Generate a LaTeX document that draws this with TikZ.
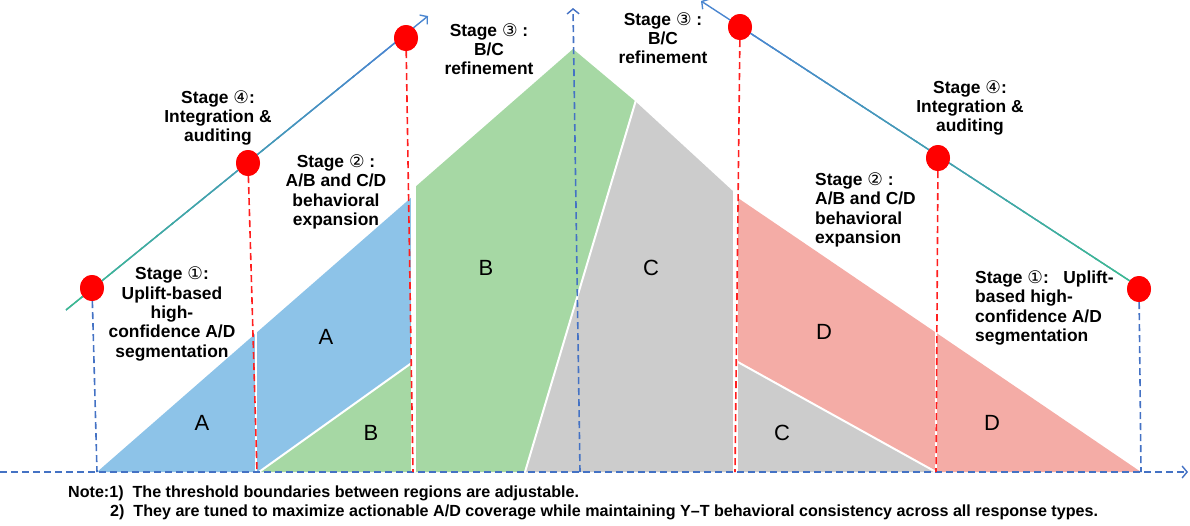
\documentclass[tikz,border=0pt]{standalone}
\usepackage{fontspec}
\setmainfont{Liberation Sans}
\newfontfamily\dvsans{DejaVu Sans}
\usetikzlibrary{arrows.meta,calc,shapes.geometric}

\definecolor{regA}{RGB}{141,195,232}
\definecolor{regB}{RGB}{166,216,164}
\definecolor{regC}{RGB}{204,204,204}
\definecolor{regD}{RGB}{244,172,166}
\definecolor{axisblue}{RGB}{68,114,196}
\definecolor{cutred}{RGB}{255,30,30}
\definecolor{lineblue}{RGB}{74,134,208}
\definecolor{linegreen}{RGB}{60,190,140}

% circled stage numbers come from DejaVu Sans
\newcommand{\stg}[1]{{\dvsans\mdseries #1}}

\tikzset{
  bdash/.style={draw=axisblue, line width=1.6pt, dash pattern=on 7pt off 4pt},
  rdash/.style={draw=cutred, line width=1.6pt, dash pattern=on 7pt off 4pt},
  barb/.style={-{Straight Barb[length=5pt,width=12pt,line width=1.4pt]}},
  dot/.style={ellipse, fill=red, draw=none, minimum width=24pt, minimum height=26pt, inner sep=0pt},
  stagelbl/.style={font=\fontsize{17.4}{19.3}\selectfont\bfseries, align=center, inner sep=0pt},
  stagelbll/.style={font=\fontsize{17.4}{19.3}\selectfont\bfseries, align=left, inner sep=0pt},
  reglbl/.style={font=\fontsize{22}{24}\selectfont, inner sep=0pt},
  notelbl/.style={font=\fontsize{16.1}{18}\selectfont\bfseries, inner sep=0pt},
  sep/.style={draw=white, line width=2pt},
  gap/.style={draw=white, line width=5pt},
}

\begin{document}
\begin{tikzpicture}[x=1pt, y=-1pt]
\useasboundingbox (0,0) rectangle (1190,525);

% ---- regions ----
\fill[regA] (97,472) -- (413,196) -- (413,362) -- (258,472) -- cycle;
\fill[regB] (258,472) -- (413,362) -- (413,472) -- cycle;
\fill[regB] (414,472) -- (414,188) -- (573,49) -- (635,101) -- (525,472) -- cycle;
\fill[regC] (525,472) -- (635,101) -- (735,193) -- (735,472) -- cycle;
\fill[regD] (735,196) -- (1141,472) -- (936,472) -- (735,361) -- cycle;
\fill[regC] (735,361) -- (936,472) -- (735,472) -- cycle;

% separators between regions
\draw[sep] (259,472) -- (413,362);
\draw[sep] (525,472) -- (636,100);
\draw[sep] (736,361) -- (936,472);
\draw[draw=white, line width=1.5pt] (256,330) -- (256,472);
\draw[draw=white, line width=1.5pt] (936,330) -- (936,472);
\draw[gap] (413,180) -- (413,472);
\draw[gap] (735,185) -- (735,472);

% ---- region letters ----
\node[reglbl] (a1) at (202,423) {A};
\node[reglbl] (a2) at (326,337) {A};
\node[reglbl] (b1) at (371,433) {B};
\node[reglbl] (b2) at (486,268) {B};
\node[reglbl] (c2) at (651,268) {C};
\node[reglbl] (c1) at (782,433) {C};
\node[reglbl] (d2) at (824,332) {D};
\node[reglbl] (d1) at (992,423) {D};

% ---- threshold dots ----
\node[dot] (l1) at (92,288) {};
\node[dot] (l2) at (248,163) {};
\node[dot] (l3) at (406,38) {};
\node[dot] (r3) at (740,27) {};
\node[dot] (r2) at (938,158) {};
\node[dot] (r1) at (1139,289) {};

% foot points on the axis
\coordinate (l1b) at (97,472);
\coordinate (l2b) at (257,472);
\coordinate (l3b) at (413,472);
\coordinate (r3b) at (735,472);
\coordinate (r2b) at (936,472);
\coordinate (r1b) at (1141,472);
\coordinate (mtop) at (573,8);
\coordinate (mbot) at (580,472);
\coordinate (ax0) at (0,472);
\coordinate (ax1) at (1188,472);

% ---- axes and threshold cuts ----
\draw[bdash, barb] (ax0) -- (ax1);
\draw[bdash, barb] (mbot) -- (mtop);
\draw[bdash] (l1) -- (l1b);
\draw[bdash] (r1) -- (r1b);
\draw[rdash] (l2) -- (l2b);
\draw[rdash] (l3) -- (l3b);
\draw[rdash] (r3) -- (r3b);
\draw[rdash] (r2) -- (r2b);

% ---- rising and falling stage lines (green to blue) ----
\coordinate (ls) at (66,310);
\coordinate (le) at (428,16);
\coordinate (rs) at (1133,283);
\coordinate (re) at (701,1);
\draw[lineblue, line width=1.4pt, barb] (ls) -- (le);
\draw[lineblue, line width=1.4pt, barb] (rs) -- (re);
\foreach \i in {0,...,21} {
  \pgfmathsetmacro\ta{\i/24}
  \pgfmathsetmacro\tb{(\i+1.1)/24}
  \pgfmathsetmacro\pc{100-100*\i/21}
  \draw[color=linegreen!\pc!lineblue, line width=1.4pt]
    ($(ls)!\ta!(le)$) -- ($(ls)!\tb!(le)$);
  \draw[color=linegreen!\pc!lineblue, line width=1.4pt]
    ($(rs)!\ta!(re)$) -- ($(rs)!\tb!(re)$);
}
% dots sit on top of the lines
\node[dot] at (l1) {};
\node[dot] at (l2) {};
\node[dot] at (l3) {};
\node[dot] at (r3) {};
\node[dot] at (r2) {};
\node[dot] at (r1) {};

% ---- stage labels ----
\node[stagelbl] (s1l) at (172,314) {Stage \stg{①}:\\Uplift-based\\high-\\confidence A/D\\segmentation};
\node[stagelbl] (s4l) at (218,118) {Stage \stg{④}:\\Integration \&\\auditing};
\node[stagelbl] (s2l) at (336,192) {Stage \stg{②} :\\A/B and C/D\\behavioral\\expansion};
\node[stagelbl] (s3l) at (489,49) {Stage \stg{③} :\\B/C\\refinement};
\node[stagelbl] (s3r) at (663,38) {Stage \stg{③} :\\B/C\\refinement};
\node[stagelbl] (s4r) at (970,108) {Stage \stg{④}:\\Integration \&\\auditing};
\node[stagelbll, anchor=west] (s2r) at (815,210) {Stage \stg{②} :\\A/B and C/D\\behavioral\\expansion};
\node[stagelbll, anchor=west] (s1r) at (975,308) {Stage \stg{①}:~~~Uplift-\\based high-\\confidence A/D\\segmentation};

% ---- notes ----
\node[notelbl, anchor=base west] (n1) at (68,497) {Note:1)\ \ The threshold boundaries between regions are adjustable.};
\node[notelbl, anchor=base west] (n2) at (110,516) {2)\ \ They are tuned to maximize actionable A/D coverage while maintaining Y–T behavioral consistency across all response types.};
\end{tikzpicture}
\end{document}
